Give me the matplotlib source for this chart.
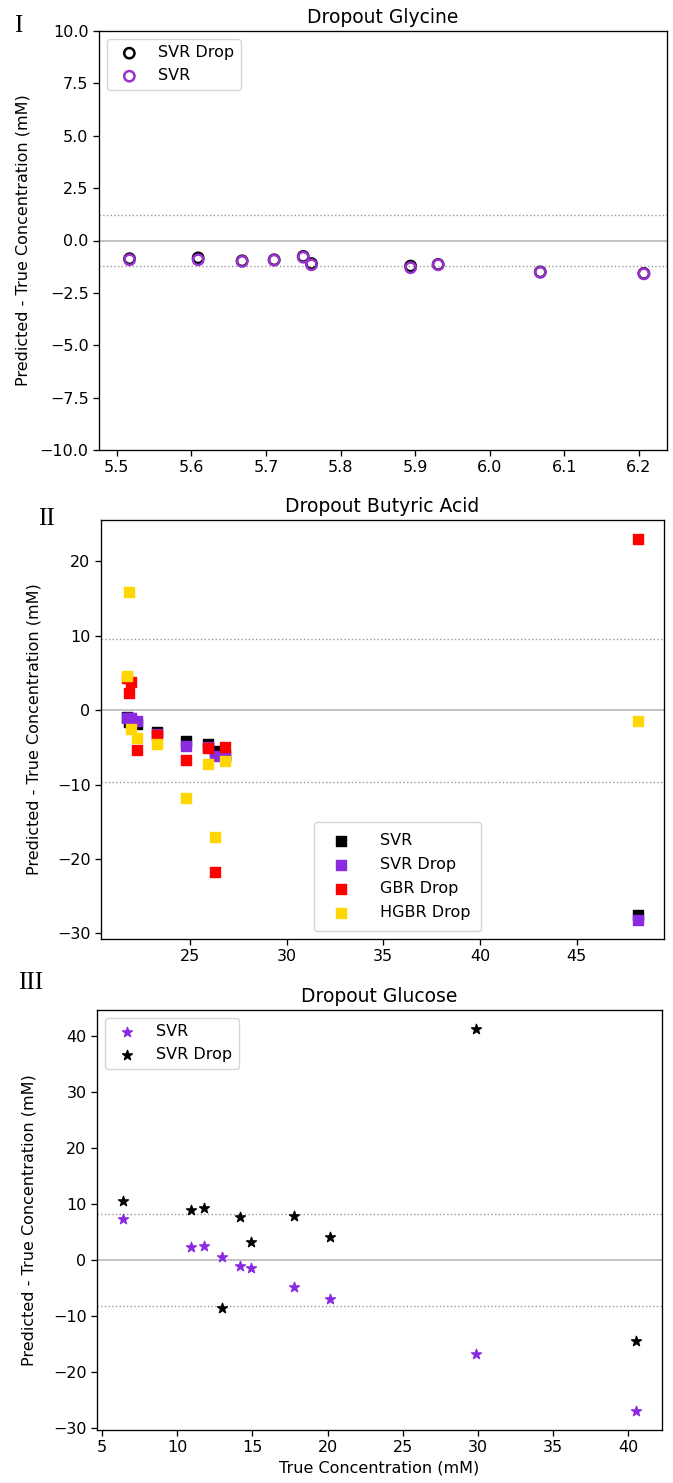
import matplotlib
matplotlib.use("Agg")
import matplotlib.pyplot as plt

plt.rcParams["font.family"] = ["DejaVu Sans"]
plt.rcParams["font.size"] = 11.5
plt.rcParams["axes.linewidth"] = 0.95
plt.rcParams["xtick.major.size"] = 4
plt.rcParams["ytick.major.size"] = 4
plt.rcParams["xtick.major.width"] = 0.95
plt.rcParams["ytick.major.width"] = 0.95

# ---- Dropout Glycine ----
gly_true = [5.517, 5.609, 5.668, 5.711, 5.750, 5.761, 5.894, 5.931, 6.068, 6.207]
gly_svr_drop = [-0.87, -0.83, -0.97, -0.92, -0.76, -1.10, -1.22, -1.14, -1.50, -1.57]
gly_svr = [-0.92, -0.92, -1.00, -0.94, -0.80, -1.16, -1.30, -1.16, -1.52, -1.59]
gly_band = 1.2

# ---- Dropout Butyric Acid ----
but_true = [21.72, 21.85, 21.95, 22.25, 23.30, 24.80, 25.95, 26.30, 26.80, 48.20]
but_svr = [-0.9, -1.6, -1.4, -1.9, -2.9, -4.2, -4.5, -5.5, -6.0, -27.6]
but_svr_drop = [-1.0, -1.1, -1.0, -1.4, -3.2, -4.8, -5.0, -6.1, -6.3, -28.2]
but_gbr_drop = [4.3, 2.3, 3.8, -5.4, -3.4, -6.7, -5.1, -21.8, -5.0, 23.0]
but_hgbr_drop = [4.6, 15.9, -2.5, -3.8, -4.6, -11.8, -7.3, -17.1, -6.8, -1.5]
but_band = 9.6

# ---- Dropout Glucose ----
glu_true = [6.37, 10.90, 11.77, 12.98, 14.18, 14.93, 17.80, 20.15, 29.86, 40.55]
glu_svr = [7.4, 2.3, 2.6, 0.66, -1.0, -1.4, -4.7, -7.0, -16.7, -26.9]
glu_svr_drop = [10.6, 9.0, 9.3, -8.5, 7.8, 3.3, 8.0, 4.1, 41.3, -14.5]
glu_band = 8.2

purple = "#9932CC"
ylabel = "Predicted - True Concentration (mM)"
title_size = 13.5

W, H = 673, 1483
fig = plt.figure(figsize=(W / 100, H / 100), dpi=100)


def axes_px(left, top, right, bottom):
    return fig.add_axes([left / W, 1 - bottom / H, (right - left) / W, (bottom - top) / H])


def reference_lines(ax, band):
    ax.axhline(0, color="0.72", lw=1.2, zorder=0)
    ax.axhline(band, color="0.6", lw=1.0, ls=":", zorder=0)
    ax.axhline(-band, color="0.6", lw=1.0, ls=":", zorder=0)


# Panel I
ax1 = axes_px(99, 31, 667, 450)
reference_lines(ax1, gly_band)
ax1.scatter(gly_true, gly_svr_drop, s=55, facecolors="none", edgecolors="black",
            linewidths=1.8, label="SVR Drop")
ax1.scatter(gly_true, gly_svr, s=55, facecolors="none", edgecolors=purple,
            linewidths=1.8, label="SVR")
ax1.set_ylim(-10, 10)
ax1.set_xlim(5.476, 6.238)
ax1.set_yticks([10, 7.5, 5, 2.5, 0, -2.5, -5, -7.5, -10])
ax1.set_title("Dropout Glycine", fontsize=title_size)
ax1.set_ylabel(ylabel)
ax1.yaxis.set_label_coords(-0.121, 0.5)
ax1.legend(loc="upper left")

# Panel II
ax2 = axes_px(101, 520, 664, 939)
reference_lines(ax2, but_band)
ax2.scatter(but_true, but_svr, s=60, marker="s", color="black", label="SVR")
ax2.scatter(but_true, but_svr_drop, s=60, marker="s", color="blueviolet", label="SVR Drop")
ax2.scatter(but_true, but_gbr_drop, s=60, marker="s", color="red", label="GBR Drop")
ax2.scatter(but_true, but_hgbr_drop, s=60, marker="s", color="gold", label="HGBR Drop")
ax2.set_xticks([25, 30, 35, 40, 45])
ax2.set_yticks([20, 10, 0, -10, -20, -30])
ax2.set_title("Dropout Butyric Acid", fontsize=title_size)
ax2.set_ylabel(ylabel)
ax2.yaxis.set_label_coords(-0.105, 0.5)
ax2.legend(loc="lower center", bbox_to_anchor=(0.527, 0.0), borderpad=0.7,
           labelspacing=0.55, handletextpad=1.4)

# Panel III
ax3 = axes_px(97, 1010, 662, 1430)
reference_lines(ax3, glu_band)
ax3.scatter(glu_true, glu_svr, s=55, marker="*", color="blueviolet", label="SVR")
ax3.scatter(glu_true, glu_svr_drop, s=55, marker="*", color="black", label="SVR Drop")
ax3.set_xticks([5, 10, 15, 20, 25, 30, 35, 40])
ax3.set_yticks([40, 30, 20, 10, 0, -10, -20, -30])
ax3.set_title("Dropout Glucose", fontsize=title_size)
ax3.set_ylabel(ylabel)
ax3.set_xlabel("True Concentration (mM)")
ax3.yaxis.set_label_coords(-0.107, 0.5)
ax3.legend(loc="upper left")

# Panel numerals
serif = ["Liberation Serif", "DejaVu Serif"]
fig.text(18 / W, 1 - 26 / H, "I", family=serif, fontsize=18, ha="center", va="center")
fig.text(46 / W, 1 - 519 / H, "II", family=serif, fontsize=18, ha="center", va="center")
fig.text(31 / W, 1 - 983 / H, "III", family=serif, fontsize=18, ha="center", va="center")

fig.savefig("out.png", dpi=100)
